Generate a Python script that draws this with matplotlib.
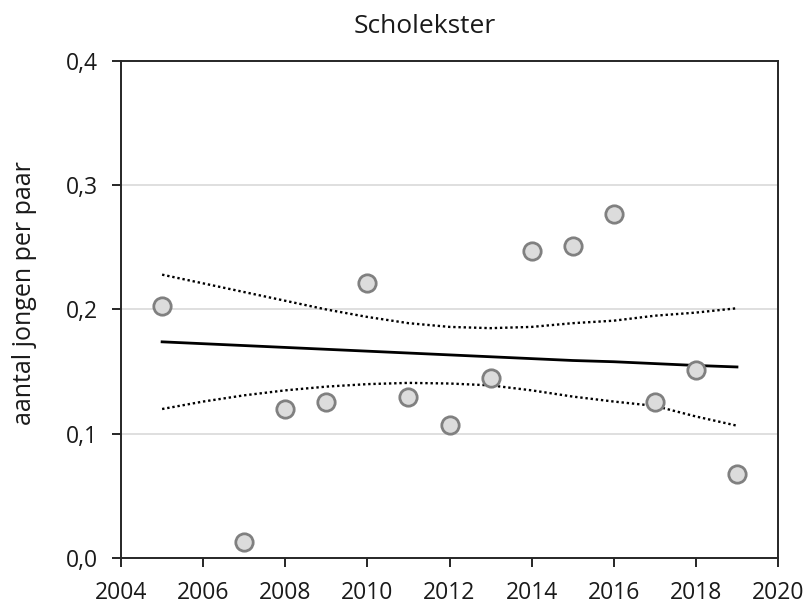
import numpy as np
import matplotlib.pyplot as plt

plt.rcParams['font.family'] = ['Open Sans', 'DejaVu Sans']

# Observed values per year (no count for 2006)
years = [2005, 2007, 2008, 2009, 2010, 2011, 2012, 2013, 2014, 2015, 2016, 2017, 2018, 2019]
jongen = [0.203, 0.013, 0.120, 0.126, 0.221, 0.130, 0.107, 0.145, 0.247, 0.251, 0.277, 0.126, 0.151, 0.068]

# Trend line with upper/lower confidence limits
trend_years = list(range(2005, 2020))
trend = [0.174, 0.1725, 0.171, 0.1695, 0.168, 0.1665, 0.165, 0.1635,
         0.162, 0.1605, 0.159, 0.158, 0.1565, 0.155, 0.1538]
upper = [0.228, 0.221, 0.214, 0.207, 0.200, 0.194, 0.189, 0.186,
         0.185, 0.186, 0.189, 0.191, 0.195, 0.1975, 0.201]
lower = [0.120, 0.126, 0.131, 0.135, 0.138, 0.140, 0.141, 0.1405,
         0.139, 0.135, 0.130, 0.126, 0.1225, 0.114, 0.1066]

xticks = list(range(2004, 2021, 2))
yticks = [0.0, 0.1, 0.2, 0.3, 0.4]

fig = plt.figure(figsize=(8.08, 6.05), dpi=100)
ax = fig.add_axes([0.1498, 0.0772, 0.8131, 0.8225])

ax.plot(trend_years, upper, color='black', lw=1.7, ls=(0, (1, 1.2)), zorder=2)
ax.plot(trend_years, lower, color='black', lw=1.7, ls=(0, (1, 1.2)), zorder=2)
ax.plot(trend_years, trend, color='black', lw=2.0, zorder=2)
ax.plot(years, jongen, 'o', ms=12.5, mfc='#dcdcdc', mec='#808080', mew=2, zorder=3)

ax.set_xlim(2004, 2020)
ax.set_ylim(0, 0.4)
ax.set_xticks(xticks)
ax.set_yticks(yticks)
ax.set_yticklabels([('%.1f' % v).replace('.', ',') for v in yticks])
ax.yaxis.grid(True, color='#d9d9d9', lw=1.2)
ax.set_axisbelow(True)

for s in ax.spines.values():
    s.set_color('#262626')
    s.set_linewidth(1.4)
ax.tick_params(direction='out', length=6.5, width=1.4, color='#262626',
               labelsize=16.5, labelcolor='#1a1a1a')
ax.tick_params(axis='x', pad=10)
ax.tick_params(axis='y', pad=10)

ax.set_title('Scholekster', fontsize=19, color='#1a1a1a', pad=20, x=0.463)
ax.set_ylabel('aantal jongen per paar', fontsize=18, color='#1a1a1a')
ax.yaxis.set_label_coords(-0.128, 0.533)

fig.savefig('out.png', dpi=100)
